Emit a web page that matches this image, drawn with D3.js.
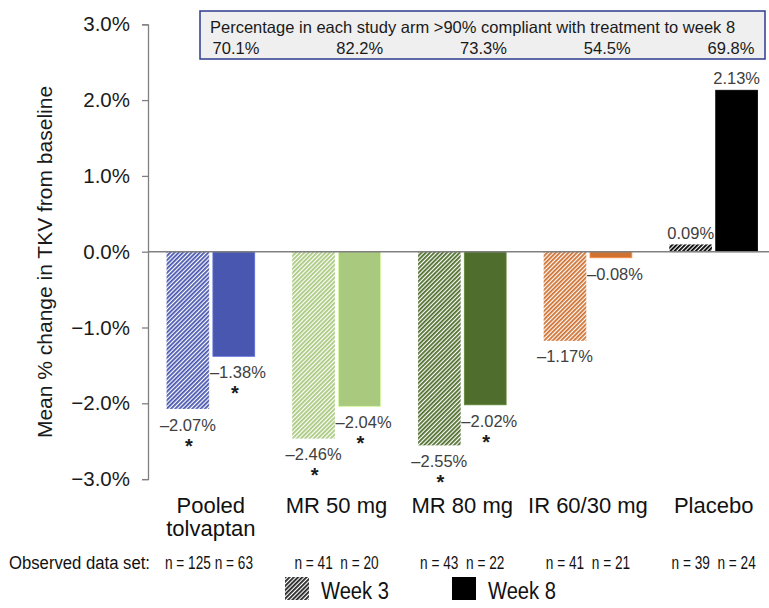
<!DOCTYPE html>
<html>
<head>
<meta charset="utf-8">
<script src="https://cdn.jsdelivr.net/npm/d3@7"></script>
<style>
  html, body { margin: 0; padding: 0; background: #fff; }
  svg { display: block; }
  text { font-family: "Liberation Sans", Arial, sans-serif; }
</style>
</head>
<body>
<svg id="chart" width="769" height="608"></svg>
<script>
// Study arms and results (mean % change in total kidney volume)
const categories = ["Pooled tolvaptan", "MR 50 mg", "MR 80 mg", "IR 60/30 mg", "Placebo"];
const categoryLines = [["Pooled", "tolvaptan"], ["MR 50 mg"], ["MR 80 mg"], ["IR 60/30 mg"], ["Placebo"]];
const weeks = ["Week 3", "Week 8"];
const week3Values = [-2.07, -2.46, -2.55, -1.17, 0.09];
const week8Values = [-1.38, -2.04, -2.02, -0.08, 2.13];
const week3Significant = [true, true, true, false, false];
const week8Significant = [true, true, true, false, false];
const week3N = [125, 41, 43, 41, 39];
const week8N = [63, 20, 22, 21, 24];
const compliance = ["70.1%", "82.2%", "73.3%", "54.5%", "69.8%"];
const yTicks = [-3, -2, -1, 0, 1, 2, 3];
const armColors = ["#4957b0", "#a9c97f", "#4f6e2d", "#cf7131", "#000000"];

const svg = d3.select("#chart");
const defs = svg.append("defs");

// Scales
const x0 = d3.scaleBand().domain(categories).range([148, 776.5])
  .paddingInner(0.302).paddingOuter(0.151);
const x1 = d3.scaleBand().domain(weeks).range([0, x0.bandwidth()]).paddingInner(0.09);
const y = d3.scaleLinear().domain([-3, 3]).range([479.1, 24.3]);

const fmt = v => (v < 0 ? "\u2013" : "") + Math.abs(v).toFixed(2) + "%";

// Horizontally condensed text helper
function condensed(sel, x, y, sx) {
  return sel.attr("transform", `translate(${x},${y}) scale(${sx},1)`);
}

// Diagonal hatch pattern per arm (used for week 3)
function hatch(id, color) {
  const p = defs.append("pattern")
    .attr("id", id).attr("patternUnits", "userSpaceOnUse")
    .attr("width", 3).attr("height", 3)
    .attr("patternTransform", "rotate(45)");
  p.append("rect").attr("width", 3).attr("height", 3).attr("fill", "#fff");
  p.append("rect").attr("width", 1.8).attr("height", 3).attr("fill", color);
}
armColors.forEach((c, i) => hatch("hatch" + i, c));
hatch("hatchLegend", "#222");

const rows = categories.map((c, i) => ({
  cat: c, i,
  bars: [
    { week: "Week 3", v: week3Values[i], sig: week3Significant[i], n: week3N[i] },
    { week: "Week 8", v: week8Values[i], sig: week8Significant[i], n: week8N[i] }
  ]
}));

// Compliance box
svg.append("rect")
  .attr("x", 200).attr("y", 11).attr("width", 565).attr("height", 48)
  .attr("fill", "#efefef").attr("stroke", "#2f3b8f").attr("stroke-width", 1.5);
svg.append("text")
  .attr("x", 210).attr("y", 33)
  .attr("font-size", 16.5).attr("fill", "#1a1a1a")
  .text("Percentage in each study arm >90% compliant with treatment to week 8");
const xc = d3.scalePoint().domain(categories).range([236, 731]);
svg.append("g").selectAll("text").data(compliance).join("text")
  .attr("x", (d, i) => xc(categories[i])).attr("y", 54)
  .attr("text-anchor", "middle").attr("font-size", 16.5).attr("fill", "#1a1a1a")
  .text(d => d);

// Y axis
const yAxis = d3.axisLeft(y).tickValues(yTicks)
  .tickFormat(d => (d < 0 ? "\u2212" : "") + Math.abs(d).toFixed(1) + "%")
  .tickSize(6).tickPadding(12);
const gy = svg.append("g").attr("transform", "translate(148,0)").call(yAxis);
gy.select(".domain").attr("stroke", "#808080").attr("stroke-width", 1.3);
gy.selectAll(".tick line").attr("stroke", "#808080").attr("stroke-width", 1.3);
gy.selectAll(".tick text")
  .attr("font-family", "Liberation Sans, Arial, sans-serif")
  .attr("font-size", 20.5).attr("fill", "#1a1a1a");

svg.append("text")
  .attr("transform", "translate(52,262) rotate(-90)")
  .attr("text-anchor", "middle").attr("font-size", 21).attr("fill", "#1a1a1a")
  .text("Mean % change in TKV from baseline");

// Bars
const groups = svg.append("g").selectAll("g").data(rows).join("g")
  .attr("transform", d => `translate(${x0(d.cat)},0)`);

groups.selectAll("rect").data(d => d.bars.map(b => ({ ...b, i: d.i }))).join("rect")
  .attr("x", d => x1(d.week))
  .attr("width", x1.bandwidth())
  .attr("y", d => y(Math.max(0, d.v)))
  .attr("height", d => Math.abs(y(d.v) - y(0)))
  .attr("fill", d => d.week === "Week 3" ? `url(#hatch${d.i})` : armColors[d.i])
  .attr("stroke", d => d.week === "Week 3" ? `url(#hatch${d.i})` : d3.color(armColors[d.i]).brighter(0.6))
  .attr("stroke-width", 0.8);

// Value labels
groups.selectAll("text.val").data(d => d.bars).join("text")
  .attr("class", "val")
  .attr("font-size", 16.5).attr("fill", "#404040")
  .attr("text-anchor", d => (d.v < 0 && d.week === "Week 8") ? "start" : "middle")
  .attr("x", d => (d.v < 0 && d.week === "Week 8") ? x1(d.week) - 3 : x1(d.week) + x1.bandwidth() / 2)
  .attr("y", d => d.v < 0 ? y(d.v) + 22 : y(d.v) - 6)
  .text(d => fmt(d.v));

// Significance markers
groups.selectAll("text.sig").data(d => d.bars.filter(b => b.sig)).join("text")
  .attr("class", "sig")
  .attr("font-size", 20).attr("font-weight", "bold").attr("fill", "#1a1a1a")
  .attr("text-anchor", "middle")
  .attr("x", d => x1(d.week) + x1.bandwidth() / 2 + 1)
  .attr("y", d => y(d.v) + 44)
  .text("*");

// Zero baseline
svg.append("line")
  .attr("x1", 148).attr("x2", 769).attr("y1", y(0)).attr("y2", y(0))
  .attr("stroke", "#808080").attr("stroke-width", 1.5);

// Category labels
const cat = svg.append("g").selectAll("text").data(rows).join("text")
  .attr("font-size", 22).attr("fill", "#111")
  .attr("text-anchor", "middle")
  .attr("x", d => x0(d.cat) + x0.bandwidth() / 2)
  .attr("y", 513);
cat.selectAll("tspan").data(d => categoryLines[d.i]).join("tspan")
  .attr("x", function () { return d3.select(this.parentNode).attr("x"); })
  .attr("dy", (d, j) => j === 0 ? 0 : 23)
  .text(d => d);

// Observed data set counts
svg.append("text")
  .attr("x", 9).attr("y", 569).attr("font-size", 18).attr("fill", "#111")
  .attr("textLength", 141).attr("lengthAdjust", "spacingAndGlyphs")
  .text("Observed data set:");
groups.selectAll("text.n").data(d => d.bars).join("text")
  .attr("class", "n").attr("font-size", 17.5).attr("fill", "#111")
  .attr("text-anchor", "middle")
  .each(function (d) {
    condensed(d3.select(this), x1(d.week) + x1.bandwidth() / 2, 569, 0.78);
  })
  .text(d => "n = " + d.n);

// Legend
const legend = svg.append("g");
const legendItems = [
  { label: weeks[0], fill: "url(#hatchLegend)", x: 285 },
  { label: weeks[1], fill: "#000", x: 452 }
];
legendItems.forEach(it => {
  legend.append("rect").attr("x", it.x).attr("y", 577).attr("width", 24).attr("height", 23)
    .attr("fill", it.fill);
  condensed(legend.append("text"), it.x + 36, 599, 0.84)
    .attr("font-size", 24).attr("fill", "#111")
    .text(it.label);
});
</script>
</body>
</html>
